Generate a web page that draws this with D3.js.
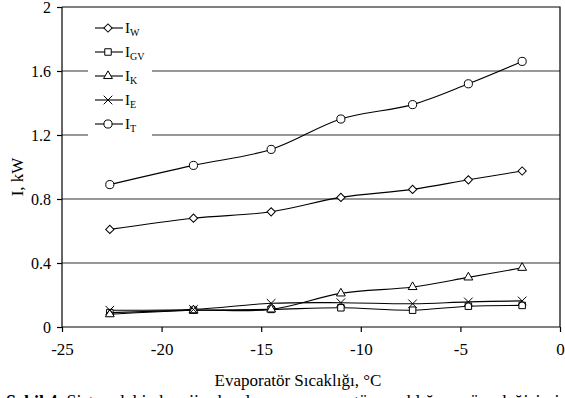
<!DOCTYPE html>
<html>
<head>
<meta charset="utf-8">
<script src="https://cdn.jsdelivr.net/npm/d3@7"></script>
<style>
	body { margin: 0; background: #fff; }
	text { font-family: "Liberation Serif", "Times New Roman", serif; fill: #000; }
</style>
</head>
<body>
<div id="chart"></div>
<script>
// evaporator temperature, °C
var temps = [-22.6, -18.4, -14.5, -11.0, -7.4, -4.6, -1.9]

// exergy values, kW
var iW = [0.61, 0.68, 0.72, 0.81, 0.86, 0.92, 0.975]
var iGV = [0.09, 0.105, 0.11, 0.12, 0.105, 0.13, 0.135]
var iK = [0.08, 0.105, 0.11, 0.21, 0.25, 0.31, 0.37]
var iE = [0.105, 0.11, 0.148, 0.152, 0.145, 0.157, 0.163]
var iT = [0.89, 1.01, 1.11, 1.30, 1.39, 1.52, 1.66]

var seriesNames = ['W', 'GV', 'K', 'E', 'T']
var xTicks = [-25, -20, -15, -10, -5, 0]
var yTicks = [0, 0.4, 0.8, 1.2, 1.6, 2]

var width = 565,
	height = 398

var margin = { top: 7, right: 5, bottom: 71, left: 62 }

var svg = d3.select('#chart').append('svg')
	.attr('width', width)
	.attr('height', height)

var x = d3.scaleLinear()
	.domain([-25, 0])
	.range([margin.left, width - margin.right])

var y = d3.scaleLinear()
	.domain([0, 2])
	.range([height - margin.bottom, margin.top])

var series = [
	{ name: seriesNames[0], values: iW, symbol: d3.symbolSquare, size: 34, rotate: 45 },
	{ name: seriesNames[1], values: iGV, symbol: d3.symbolSquare, size: 42, rotate: 0 },
	{ name: seriesNames[2], values: iK, symbol: d3.symbolTriangle, size: 34, rotate: 0 },
	{ name: seriesNames[3], values: iE, symbol: d3.symbolX, size: 50, rotate: 0 },
	{ name: seriesNames[4], values: iT, symbol: d3.symbolCircle, size: 52, rotate: 0 }
]

// gridlines
svg.append('g')
	.selectAll('line')
	.data(yTicks.filter(function (d) { return d > 0 && d < 2 }))
	.enter().append('line')
	.attr('x1', x(-25))
	.attr('x2', x(0))
	.attr('y1', function (d) { return y(d) })
	.attr('y2', function (d) { return y(d) })
	.attr('stroke', '#333')
	.attr('stroke-width', 1)

// plot frame (top and right)
svg.append('path')
	.attr('d', 'M' + x(-25) + ',' + y(2) + 'H' + x(0) + 'V' + y(0))
	.attr('fill', 'none')
	.attr('stroke', '#000')
	.attr('stroke-width', 1.2)

var x_axis = d3.axisBottom(x)
	.tickValues(xTicks)
	.tickSize(5)
	.tickPadding(11)
	.tickFormat(function (d) { return String(d) })

var y_axis = d3.axisLeft(y)
	.tickValues(yTicks)
	.tickSize(5)
	.tickPadding(6)
	.tickFormat(function (d) { return d === 0 || d === 2 ? String(d) : d.toFixed(1) })

var gx = svg.append('g')
	.attr('transform', 'translate(0,' + y(0) + ')')
	.call(x_axis)

var gy = svg.append('g')
	.attr('transform', 'translate(' + x(-25) + ',0)')
	.call(y_axis)

gx.attr('font-family', null).attr('font-size', null)
gy.attr('font-family', null).attr('font-size', null)
gx.selectAll('text').style('font-size', '17px')
gy.selectAll('text').style('font-size', '16px').attr('dy', '0.36em')
gx.selectAll('line, path').attr('stroke', '#000').attr('stroke-width', 1.2)
gy.selectAll('line, path').attr('stroke', '#000').attr('stroke-width', 1.2)
gx.select('.domain').attr('d', 'M' + x(-25) + ',0H' + x(0))
gy.select('.domain').attr('d', 'M0,' + y(0) + 'V' + y(2))

// lines
var line = d3.line()
	.x(function (d, i) { return x(temps[i]) })
	.y(function (d) { return y(d) })
	.curve(d3.curveCatmullRom.alpha(0.5))

svg.append('g')
	.selectAll('path')
	.data(series)
	.enter().append('path')
	.attr('d', function (s) { return line(s.values) })
	.attr('fill', 'none')
	.attr('stroke', '#000')
	.attr('stroke-width', 1.1)

// markers
series.forEach(function (s) {
	svg.append('g')
		.selectAll('path')
		.data(s.values)
		.enter().append('path')
		.attr('d', d3.symbol().type(s.symbol).size(s.size))
		.attr('transform', function (d, i) {
			return 'translate(' + x(temps[i]) + ',' + y(d) + ') rotate(' + s.rotate + ')'
		})
		.attr('fill', '#fff')
		.attr('stroke', '#000')
		.attr('stroke-width', 1)
})

// legend
var legend = svg.append('g')

legend.append('rect')
	.attr('x', 88)
	.attr('y', 14)
	.attr('width', 64)
	.attr('height', 126)
	.attr('fill', '#fff')

var item = legend.selectAll('.item')
	.data(series)
	.enter().append('g')
	.attr('class', 'item')
	.attr('transform', function (d, i) { return 'translate(0,' + (28 + i * 24) + ')' })

item.append('line')
	.attr('x1', 95)
	.attr('x2', 123)
	.attr('stroke', '#000')
	.attr('stroke-width', 1.1)

item.append('path')
	.attr('d', function (s) { return d3.symbol().type(s.symbol).size(s.size)() })
	.attr('transform', function (s) { return 'translate(108,0) rotate(' + s.rotate + ')' })
	.attr('fill', '#fff')
	.attr('stroke', '#000')

var label = item.append('text')
	.attr('x', 125)
	.attr('y', 5)
	.style('font-size', '15px')

label.append('tspan').text('I')
label.append('tspan')
	.attr('dy', 3)
	.style('font-size', '10px')
	.text(function (s) { return s.name })

// axis titles
svg.append('text')
	.attr('transform', 'translate(23,177) rotate(-90)')
	.attr('text-anchor', 'middle')
	.style('font-size', '17px')
	.text('I, kW')

svg.append('text')
	.attr('x', 298)
	.attr('y', 386)
	.attr('text-anchor', 'middle')
	.style('font-size', '17px')
	.text('Evaporatör Sıcaklığı, °C')

// caption, cut by the lower edge as in the source
var caption = svg.append('text')
	.attr('x', 6)
	.attr('y', 408)
	.style('font-size', '18px')

caption.append('tspan')
	.style('font-weight', 'bold')
	.text('Şekil 4. ')
caption.append('tspan')
	.text('Sistemdeki ekserji yıkımlarının evaporatör sıcaklığına göre değişimi')
</script>
</body>
</html>
